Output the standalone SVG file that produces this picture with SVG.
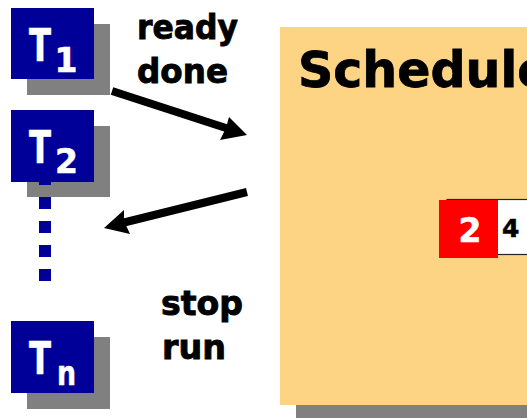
<svg xmlns="http://www.w3.org/2000/svg" width="527" height="418" viewBox="0 0 527 418">
<defs>
<style>
.shadow{fill:#808080}
.task{fill:#000099}
.tt{font-family:"DejaVu Sans","Verdana",sans-serif;font-weight:bold;fill:#ffffff;stroke:#ffffff;stroke-width:0.6}
.big{font-size:45px}
.sub{font-size:33px}
.lbl{font-family:"DejaVu Sans","Verdana",sans-serif;font-weight:bold;fill:#000000;stroke:#000000;stroke-width:0.9;font-size:34px}
.conn{stroke:#000;stroke-width:8;fill:none}
.head{fill:#000}
</style>
</defs>
<rect width="527" height="418" fill="#ffffff"/>

<g id="scheduler">
<rect class="shadow" x="296" y="43" width="260" height="378"/>
<rect x="280" y="27" width="260" height="378" fill="#FDD483"/>
<text x="298" y="87" font-family="DejaVu Sans, Verdana, sans-serif" font-weight="bold" font-size="49" fill="#000" stroke="#000" stroke-width="0.8">Schedule</text>
<rect x="447" y="199.5" width="100" height="55" fill="#ffffff" stroke="#222" stroke-width="1.2"/>
<text x="502" y="237" font-family="DejaVu Sans, Verdana, sans-serif" font-weight="bold" font-size="25" fill="#000" stroke="#000" stroke-width="0.5">4</text>
<rect x="439" y="200" width="59" height="58" fill="#ff0000"/>
<text x="470" y="242" text-anchor="middle" font-family="DejaVu Sans, Verdana, sans-serif" font-weight="bold" font-size="33" fill="#ffffff" stroke="#ffffff" stroke-width="0.5">2</text>
</g>

<g id="T1">
<rect class="shadow" x="27" y="24" width="83" height="71"/>
<rect class="task" x="11" y="8" width="83" height="71"/>
<text class="tt"><tspan class="big" x="29" y="61" textLength="22" lengthAdjust="spacingAndGlyphs">T</tspan><tspan class="sub" x="54.5" y="72">1</tspan></text>
</g>

<g id="T2">
<rect class="shadow" x="27" y="126" width="83" height="71"/>
<rect class="task" x="11" y="110" width="83" height="72"/>
<text class="tt"><tspan class="big" x="29" y="163" textLength="22" lengthAdjust="spacingAndGlyphs">T</tspan><tspan class="sub" x="55" y="173">2</tspan></text>
</g>

<g id="Tn">
<rect class="shadow" x="27" y="337" width="83" height="72"/>
<rect class="task" x="11" y="321" width="83" height="72"/>
<text class="tt"><tspan class="big" x="29" y="374" textLength="22" lengthAdjust="spacingAndGlyphs">T</tspan><tspan class="sub" x="57" y="385" textLength="19" lengthAdjust="spacingAndGlyphs">n</tspan></text>
</g>

<line id="ellipsis" x1="45" y1="173" x2="45" y2="281" stroke="#000099" stroke-width="12" stroke-dasharray="12 12"/>

<g id="connectors">
<line class="conn" x1="112" y1="91" x2="229" y2="129"/>
<polygon class="head" points="247,135 229,117 226,128 220,140"/>
<line class="conn" x1="247" y1="192" x2="122" y2="223"/>
<polygon class="head" points="104,228 124,210 124,221 130,234"/>
</g>

<g id="labels">
<text class="lbl" x="137" y="39" textLength="101" lengthAdjust="spacingAndGlyphs">ready</text>
<text class="lbl" x="137" y="83" textLength="91" lengthAdjust="spacingAndGlyphs">done</text>
<text class="lbl" x="161" y="315" textLength="82" lengthAdjust="spacingAndGlyphs">stop</text>
<text class="lbl" x="162" y="359" textLength="64" lengthAdjust="spacingAndGlyphs">run</text>
</g>
</svg>
